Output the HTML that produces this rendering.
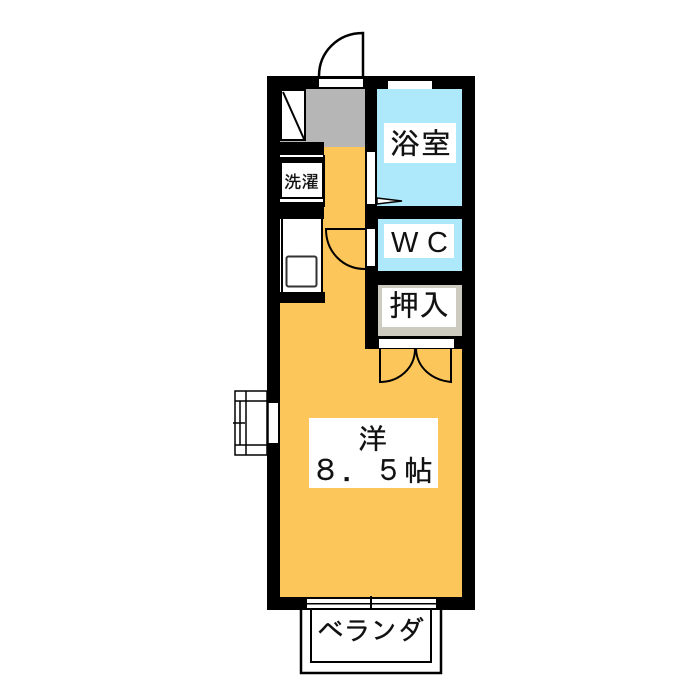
<!DOCTYPE html>
<html><head><meta charset="utf-8"><style>html,body{margin:0;padding:0;background:#fff}svg{display:block}text{font-family:"IPAGothic","Noto Sans CJK JP",sans-serif;fill:#111;stroke:#111;stroke-width:.3}</style></head>
<body>
<svg width="700" height="700" viewBox="0 0 700 700" xmlns="http://www.w3.org/2000/svg">
<rect width="700" height="700" fill="#fff"/>
<!-- door -->
<path d="M319 76 C319 52 338 33 363 33 L363 76" fill="none" stroke="#000" stroke-width="2.5"/>
<!-- walls -->
<rect x="267" y="76" width="208" height="534" fill="#000"/>
<!-- room -->
<rect x="280" y="89" width="182" height="508" fill="#FDC65A"/>
<!-- right block back to wall -->
<rect x="365" y="89" width="110" height="260" fill="#000"/>
<!-- entry -->
<rect x="280" y="89" width="85" height="58" fill="#B6B6B6"/>
<rect x="324" y="147" width="41" height="60" fill="#FDC65A"/>
<rect x="280" y="142" width="44" height="13" fill="#000"/>
<!-- shoe box -->
<rect x="281" y="90" width="24" height="50" fill="#fff" stroke="#000" stroke-width="2"/>
<line x1="283" y1="92" x2="304" y2="139" stroke="#000" stroke-width="2"/>
<!-- laundry -->
<rect x="280" y="155" width="45" height="52" fill="#000"/>
<rect x="280" y="155" width="43" height="2" fill="#fff"/>
<rect x="280" y="199" width="43" height="3" fill="#fff"/>
<rect x="282" y="163" width="40" height="34" fill="#fff"/>
<text x="284" y="188" font-size="17.5" textLength="35">洗濯</text>
<!-- kitchen -->
<rect x="280" y="207" width="44" height="12" fill="#000"/>
<rect x="280" y="219" width="43" height="73" fill="#000"/>
<rect x="280" y="219" width="1" height="73" fill="#fff"/>
<rect x="283" y="219" width="38" height="73" fill="#fff"/>
<rect x="286.500" y="256.500" width="30" height="30" rx="2" fill="#fff" stroke="#333" stroke-width="2"/>
<rect x="280" y="292" width="45" height="11" fill="#000"/>
<!-- bath -->
<rect x="377" y="89" width="85" height="117" fill="#AEE9FB"/>
<rect x="388" y="81" width="44" height="8" fill="#fff"/>
<rect x="384" y="123" width="72" height="40" fill="#fff"/>
<text x="390" y="154" font-size="30" textLength="61">浴室</text>
<rect x="367" y="152" width="8" height="52" fill="#fff"/>
<path d="M377 198 L402 201 L377 204Z" fill="#fff" stroke="#000" stroke-width="1.500"/>
<!-- WC -->
<rect x="378" y="219" width="84" height="52" fill="#AEE9FB"/>
<rect x="384" y="224" width="70" height="34" fill="#fff"/>
<text x="391" y="252" font-size="29" style="font-family:'Liberation Sans',sans-serif;stroke-width:0">W</text>
<text x="427" y="252" font-size="29" style="font-family:'Liberation Sans',sans-serif;stroke-width:0">C</text>
<rect x="367" y="229" width="8" height="37" fill="#fff"/>
<path d="M367 229 L326 229 C326 252 343 269 365 269" fill="none" stroke="#000" stroke-width="2"/>
<!-- closet -->
<rect x="378" y="285" width="84" height="51" fill="#CDCBC0"/>
<rect x="382" y="288" width="74" height="39" fill="#fff"/>
<text x="389" y="316" font-size="30" textLength="60">押入</text>
<rect x="379" y="339" width="75" height="9" fill="#fff"/>
<!-- closet doors -->
<path d="M380 349 L380 382 C399 382 415 368 415 349" fill="none" stroke="#000" stroke-width="2"/>
<path d="M451 349 L451 382 C432 380 417 368 416 349" fill="none" stroke="#000" stroke-width="2"/>
<!-- entry door opening -->
<rect x="319" y="79" width="44" height="8" fill="#fff"/>
<!-- west window -->
<rect x="268" y="403" width="10" height="40" fill="#fff"/>
<g fill="none" stroke="#000" stroke-width="1.500">
<rect x="235" y="391" width="32" height="64"/>
<line x1="246" y1="391" x2="246" y2="455"/>
<line x1="235" y1="401" x2="267" y2="401"/>
<line x1="235" y1="445" x2="267" y2="445"/>
<line x1="240" y1="401" x2="240" y2="445"/>
<line x1="233" y1="423" x2="245" y2="423"/>
<line x1="268" y1="403" x2="268" y2="443"/>
</g>
<!-- main label -->
<rect x="309" y="418" width="129" height="70" fill="#fff"/>
<text x="358" y="449" font-size="29">洋</text>
<text x="311" y="481" font-size="29">８</text>
<text x="342" y="481" font-size="29">．</text>
<text x="374" y="481" font-size="29">５</text>
<text x="404" y="481" font-size="29">帖</text>
<!-- south window -->
<rect x="307" y="599" width="129" height="9" fill="#fff"/>
<rect x="307" y="603" width="129" height="1.500" fill="#000"/>
<rect x="370" y="596" width="2" height="14" fill="#000"/>
<!-- balcony -->
<path d="M301 610 V673 H441 V610" fill="none" stroke="#000" stroke-width="2.500"/>
<path d="M311 610 V662 H431 V610" fill="none" stroke="#000" stroke-width="2"/>
<text x="317" y="640" font-size="27" textLength="107">ベランダ</text>
</svg>
</body></html>
